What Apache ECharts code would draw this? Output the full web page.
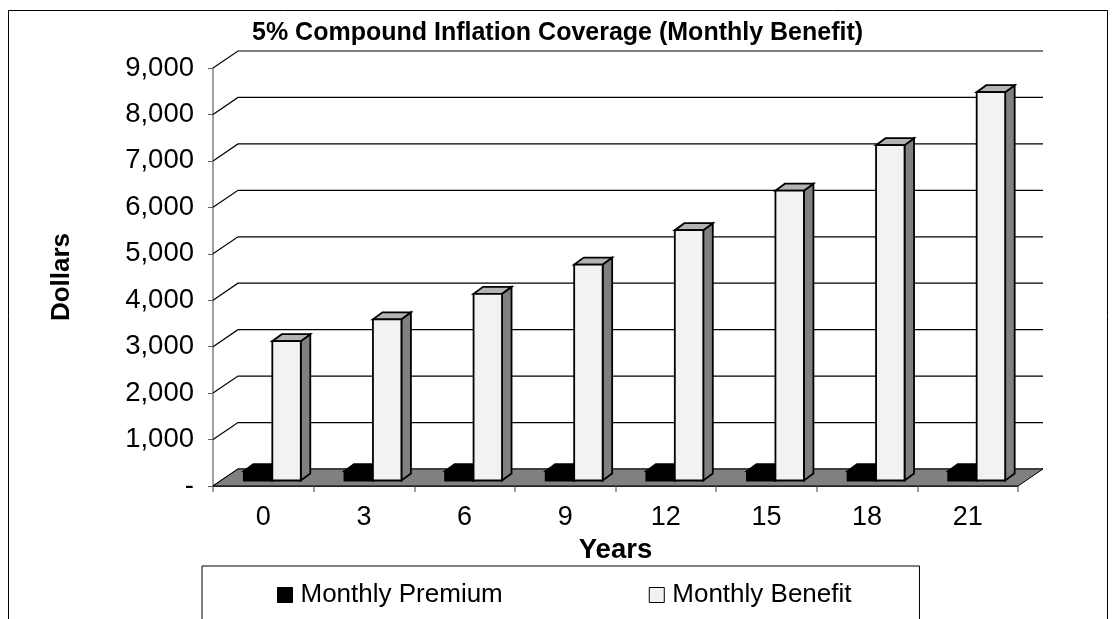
<!DOCTYPE html>
<html>
<head>
<meta charset="utf-8">
<script src="https://cdn.jsdelivr.net/npm/echarts@6/dist/echarts.min.js"></script>
<style>
html,body{margin:0;padding:0;background:#fff;}
#c{width:1114px;height:619px;}
</style>
</head>
<body>
<div id="c"></div>
<script>
// ---- data ----
const years = ['0', '3', '6', '9', '12', '15', '18', '21'];
const monthlyPremium = [200, 200, 200, 200, 200, 200, 200, 200];
const monthlyBenefit = [3000, 3470, 4020, 4650, 5390, 6240, 7220, 8360];
const yTicks = [0, 1000, 2000, 3000, 4000, 5000, 6000, 7000, 8000, 9000];
const titleText = '5% Compound Inflation Coverage (Monthly Benefit)';
const seriesNames = ['Monthly Premium', 'Monthly Benefit'];

// ---- 3D look parameters (styles, not data) ----
const WALL = { dx: 25, dy: -17 };
const BAR_FRONT = { dx: 9, dy: -5.5 };
const BAR_DEPTH = { dx: 9.5, dy: -7 };
const BAR_W_FRAC = 0.283;
const FONT = 'Liberation Sans';

function renderWall(params, api) {
  const cs = params.coordSys;
  const v = api.value(1);
  const y = api.coord([0, v])[1];
  const x0 = cs.x, x1 = cs.x + cs.width;
  return {
    type: 'polyline',
    shape: { points: [[x0, y], [x0 + WALL.dx, y + WALL.dy], [x1 + WALL.dx, y + WALL.dy]] },
    style: { stroke: '#000', lineWidth: 1.2, fill: null }
  };
}

function renderFloor(params, api) {
  const cs = params.coordSys;
  const yb = api.coord([0, 0])[1];
  const x0 = cs.x, x1 = cs.x + cs.width;
  return {
    type: 'polygon',
    shape: { points: [[x0, yb], [x1, yb], [x1 + WALL.dx, yb + WALL.dy], [x0 + WALL.dx, yb + WALL.dy]] },
    style: { fill: '#808080', stroke: '#000', lineWidth: 1 }
  };
}

function makeBarRenderer(side, colors) {
  return function (params, api) {
    const i = api.value(0), v = api.value(1);
    const base = api.coord([i, 0]);
    const top = api.coord([i, v]);
    const w = api.size([1, 0])[0] * BAR_W_FRAC;
    const cx = base[0] + BAR_FRONT.dx;
    const x0 = side < 0 ? cx - w : cx;
    const x1 = x0 + w;
    const yB = base[1] + BAR_FRONT.dy;
    const yT = top[1] + BAR_FRONT.dy;
    const dx = BAR_DEPTH.dx, dy = BAR_DEPTH.dy;
    const st = { stroke: '#000', lineWidth: 1.8, lineJoin: 'miter' };
    return {
      type: 'group',
      children: [
        { type: 'polygon', shape: { points: [[x1, yB], [x1, yT], [x1 + dx, yT + dy], [x1 + dx, yB + dy]] },
          style: Object.assign({ fill: colors.side }, st) },
        { type: 'polygon', shape: { points: [[x0, yT], [x1, yT], [x1 + dx, yT + dy], [x0 + dx, yT + dy]] },
          style: Object.assign({ fill: colors.top }, st) },
        { type: 'rect', shape: { x: x0, y: yT, width: w, height: yB - yT },
          style: Object.assign({ fill: colors.front }, st) }
      ]
    };
  };
}

const chart = echarts.init(document.getElementById('c'), null, { renderer: 'canvas' });
chart.setOption({
  animation: false,
  backgroundColor: '#fff',
  textStyle: { fontFamily: FONT, color: '#000' },
  title: {
    text: titleText,
    left: 252, top: 21, padding: 0,
    textStyle: { fontFamily: FONT, fontWeight: 'bold', fontSize: 25, color: '#000' }
  },
  graphic: [{
    type: 'rect', silent: true, z: 100,
    shape: { x: 8.5, y: 10.5, width: 1099, height: 640 },
    style: { fill: null, stroke: '#000', lineWidth: 1 }
  }],
  legend: {
    left: 202, top: 566,
    padding: [16, 68, 30, 75],
    itemGap: 146, itemWidth: 15, itemHeight: 15,
    borderColor: '#000', borderWidth: 1, backgroundColor: '#fff',
    icon: 'rect',
    textStyle: { fontFamily: FONT, fontSize: 26, color: '#000', padding: [0, 0, 0, 3] },
    data: [
      { name: seriesNames[0], itemStyle: { color: '#000', borderColor: '#000', borderWidth: 1 } },
      { name: seriesNames[1], itemStyle: { color: '#f2f2f2', borderColor: '#000', borderWidth: 1 } }
    ]
  },
  grid: { left: 213, right: 96, top: 68, bottom: 133, containLabel: false },
  xAxis: {
    type: 'category', data: years, boundaryGap: true,
    axisLine: { show: true, lineStyle: { color: '#404040', width: 1 } },
    axisTick: { show: true, length: 6, lineStyle: { color: '#808080', width: 1.5 } },
    axisLabel: { fontFamily: FONT, fontSize: 27, color: '#000', margin: 18 },
    splitLine: { show: false },
    name: 'Years', nameLocation: 'middle', nameGap: 50,
    nameTextStyle: { fontFamily: FONT, fontWeight: 'bold', fontSize: 27.5, color: '#000' }
  },
  yAxis: {
    type: 'value', min: 0, max: 9000, interval: 1000,
    axisLine: { show: true, lineStyle: { color: '#808080', width: 1.5 } },
    axisTick: { show: true, length: 5, lineStyle: { color: '#606060', width: 1 } },
    axisLabel: {
      fontFamily: FONT, fontSize: 27.5, color: '#000', margin: 19,
      formatter: v => v === 0 ? '-' : v.toLocaleString('en-US')
    },
    splitLine: { show: false },
    name: 'Dollars', nameLocation: 'middle', nameGap: 138, nameRotate: 90,
    nameTextStyle: { fontFamily: FONT, fontWeight: 'bold', fontSize: 26, color: '#000' }
  },
  series: [
    {
      type: 'custom', name: '_wall', silent: true, z: 1,
      renderItem: renderWall,
      data: yTicks.map(v => [0, v])
    },
    {
      type: 'custom', name: '_floor', silent: true, z: 2,
      renderItem: renderFloor,
      data: [[0, 0]]
    },
    {
      type: 'custom', name: seriesNames[0], z: 3,
      itemStyle: { color: '#000' },
      renderItem: makeBarRenderer(-1, { front: '#000', side: '#000', top: '#000' }),
      data: monthlyPremium.map((v, i) => [i, v])
    },
    {
      type: 'custom', name: seriesNames[1], z: 4,
      itemStyle: { color: '#f2f2f2' },
      renderItem: makeBarRenderer(1, { front: '#f2f2f2', side: '#808080', top: '#b3b3b3' }),
      data: monthlyBenefit.map((v, i) => [i, v])
    }
  ]
});
</script>
</body>
</html>
